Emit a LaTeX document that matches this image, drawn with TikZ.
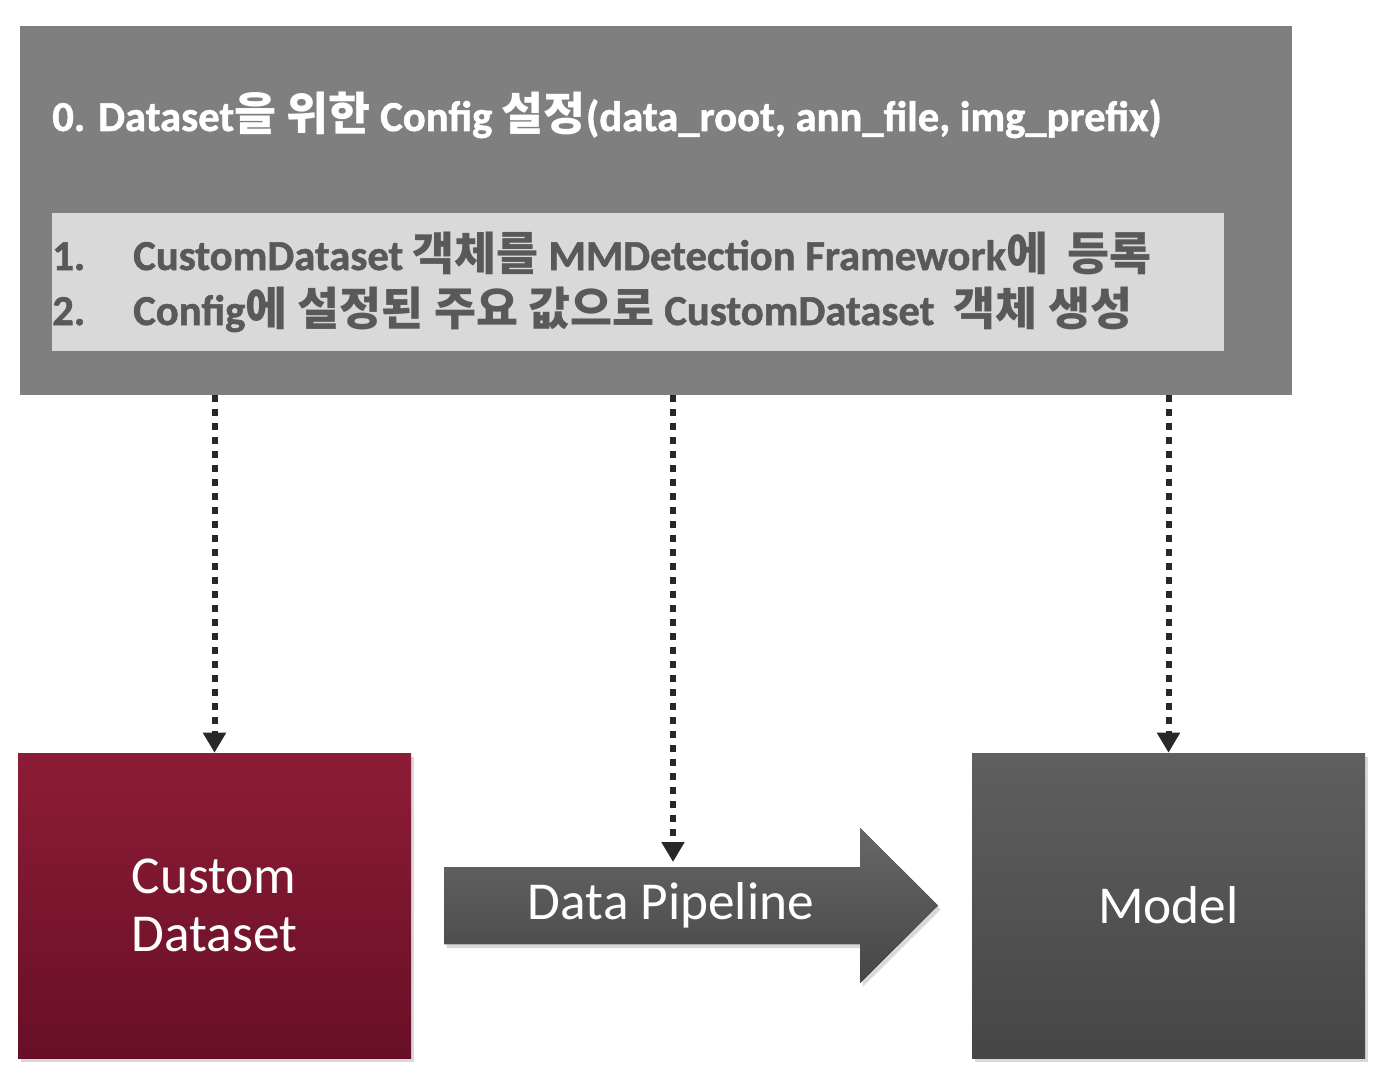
\documentclass[tikz,border=0pt]{standalone}
\usepackage{fontspec}
\setmainfont{Carlito}[BoldFont={Carlito Bold}, BoldFeatures={FakeBold=1.2}]
\newfontfamily\krfont{Noto Sans CJK KR}[Scale=1.07]
\newcommand\kr[1]{{\krfont #1}}
\usetikzlibrary{arrows.meta,shadows}

\definecolor{cfggray}{RGB}{127,127,127}
\definecolor{listgray}{RGB}{217,217,217}
\definecolor{listtext}{RGB}{89,89,89}
\definecolor{dotcol}{RGB}{40,40,40}
\definecolor{redtop}{RGB}{141,28,54}
\definecolor{redbot}{RGB}{104,15,39}
\definecolor{darktop}{RGB}{95,95,95}
\definecolor{darkbot}{RGB}{70,70,70}

\begin{document}
\begin{tikzpicture}[x=0.75pt,y=0.75pt,yscale=-1,xscale=1,
    cfgtext/.style={anchor=base west, inner sep=0pt, font=\fontsize{32}{36}\selectfont\bfseries},
    bigbox/.style={rectangle, inner sep=0pt, minimum width=294.75pt, minimum height=228.75pt,
        text=white, align=left, font=\fontsize{40}{43.5}\selectfont,
        drop shadow={shadow xshift=2pt, shadow yshift=-3pt, opacity=0.3}},
    dotarrow/.style={draw=dotcol, line width=4.5pt, dash pattern=on 5.25pt off 5.25pt,
        -{Triangle[length=15pt,width=16.5pt]}}
    ]
    \useasboundingbox (0,0) rectangle (1390,1088);

    % config box and its list
    \node [rectangle, fill=cfggray, inner sep=0pt, minimum width=954pt, minimum height=276.75pt] (cfg) at (656,210.5) {};
    \node [rectangle, fill=listgray, inner sep=0pt, minimum width=879pt, minimum height=103.5pt] (lst) at (638,282) {};
    \node [cfgtext, text=white] (head) at (52,131) {0. Dataset\kr{을 위한} Config \kr{설정}(data\_root, ann\_file, img\_prefix)};
    \node [cfgtext, text=listtext] (item1) at (52,270) {\makebox[60.75pt][l]{1.}CustomDataset \kr{객체를} MMDetection Framework\kr{에}\ \ \kr{등록}};
    \node [cfgtext, text=listtext] (item2) at (52,325) {\makebox[60.75pt][l]{2.}Config\kr{에 설정된 주요 값으로} CustomDataset\ \ \kr{객체 생성}};

    % bottom row
    \node [bigbox, top color=redtop, bottom color=redbot] (data) at (214.5,905.5) {Custom\\Dataset};
    \node [bigbox, top color=darktop, bottom color=darkbot] (model) at (1168.5,905.5) {Model};

    % pipeline arrow
    \fill [top color=darktop!95, bottom color=darkbot, drop shadow={shadow xshift=2pt, shadow yshift=-3pt, opacity=0.3}]
        (444,867) -- (860,867) -- (860,828) -- (938,905.5) -- (860,983) -- (860,944) -- (444,944) -- cycle;
    \node [inner sep=0pt, text=white, font=\fontsize{40}{43.5}\selectfont] (pipe) at (671,905.5) {Data Pipeline};
    \coordinate (pipetop) at (673,862);

    % dotted connectors
    \draw [dotarrow] (cfg.south -| data.north) -- (data.north);
    \draw [dotarrow] (cfg.south -| pipetop) -- (pipetop);
    \draw [dotarrow] (cfg.south -| model.north) -- (model.north);

\end{tikzpicture}
\end{document}
